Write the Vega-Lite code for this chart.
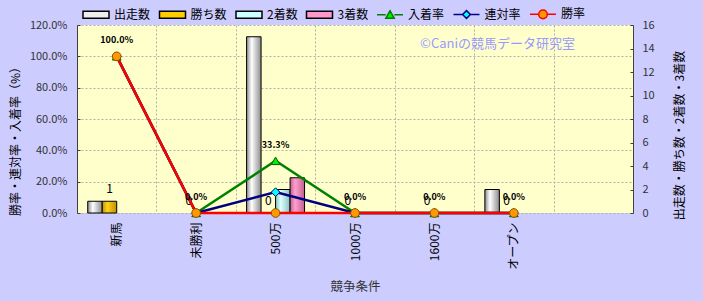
{
  "$schema": "https://vega.github.io/schema/vega-lite/v6.json",
  "width": 556,
  "height": 188,
  "autosize": {"type": "none"},
  "padding": {"left": 77, "top": 25, "right": 70, "bottom": 88},
  "background": "#ccccff",
  "config": {
    "font": "Noto Sans CJK JP",
    "view": {"fill": "#ffffcc", "stroke": null},
    "axis": {"domainColor": "#404040", "tickColor": "#404040", "titleFontWeight": "normal", "titleColor": "#000000", "labelColor": "#333333"}
  },
  "title": {
    "text": "©Caniの競馬データ研究室",
    "orient": "top",
    "anchor": "end",
    "frame": "group",
    "offset": 0,
    "dy": 51,
    "dx": -58,
    "fontSize": 13,
    "fontWeight": "normal",
    "color": "#9999ff"
  },
  "datasets": {
    "counts": [
      {"cond": "新馬", "series": "出走数", "value": 1},
      {"cond": "新馬", "series": "勝ち数", "value": 1},
      {"cond": "新馬", "series": "2着数", "value": 0},
      {"cond": "新馬", "series": "3着数", "value": 0},
      {"cond": "未勝利", "series": "出走数", "value": 0},
      {"cond": "未勝利", "series": "勝ち数", "value": 0},
      {"cond": "未勝利", "series": "2着数", "value": 0},
      {"cond": "未勝利", "series": "3着数", "value": 0},
      {"cond": "500万", "series": "出走数", "value": 15},
      {"cond": "500万", "series": "勝ち数", "value": 0},
      {"cond": "500万", "series": "2着数", "value": 2},
      {"cond": "500万", "series": "3着数", "value": 3},
      {"cond": "1000万", "series": "出走数", "value": 0},
      {"cond": "1000万", "series": "勝ち数", "value": 0},
      {"cond": "1000万", "series": "2着数", "value": 0},
      {"cond": "1000万", "series": "3着数", "value": 0},
      {"cond": "1600万", "series": "出走数", "value": 0},
      {"cond": "1600万", "series": "勝ち数", "value": 0},
      {"cond": "1600万", "series": "2着数", "value": 0},
      {"cond": "1600万", "series": "3着数", "value": 0},
      {"cond": "オープン", "series": "出走数", "value": 2},
      {"cond": "オープン", "series": "勝ち数", "value": 0},
      {"cond": "オープン", "series": "2着数", "value": 0},
      {"cond": "オープン", "series": "3着数", "value": 0}
    ],
    "rates": [
      {"cond": "新馬", "series": "入着率", "value": 1.0},
      {"cond": "未勝利", "series": "入着率", "value": 0},
      {"cond": "500万", "series": "入着率", "value": 0.333},
      {"cond": "1000万", "series": "入着率", "value": 0},
      {"cond": "1600万", "series": "入着率", "value": 0},
      {"cond": "オープン", "series": "入着率", "value": 0},
      {"cond": "新馬", "series": "連対率", "value": 1.0},
      {"cond": "未勝利", "series": "連対率", "value": 0},
      {"cond": "500万", "series": "連対率", "value": 0.133},
      {"cond": "1000万", "series": "連対率", "value": 0},
      {"cond": "1600万", "series": "連対率", "value": 0},
      {"cond": "オープン", "series": "連対率", "value": 0},
      {"cond": "新馬", "series": "勝率", "value": 1.0},
      {"cond": "未勝利", "series": "勝率", "value": 0},
      {"cond": "500万", "series": "勝率", "value": 0},
      {"cond": "1000万", "series": "勝率", "value": 0},
      {"cond": "1600万", "series": "勝率", "value": 0},
      {"cond": "オープン", "series": "勝率", "value": 0}
    ]
  },
  "encoding": {
    "x": {
      "field": "cond",
      "type": "nominal",
      "sort": null,
      "scale": {"domain": ["新馬", "未勝利", "500万", "1000万", "1600万", "オープン", " "], "paddingInner": 0, "paddingOuter": 0},
      "axis": {
        "title": "競争条件",
        "labelAngle": -90,
        "tickBand": "extent",
        "ticks": false,
        "grid": true,
        "gridDash": [2, 2],
        "gridColor": "#b0b0b0",
        "domain": false,
        "labelPadding": 9,
        "labelFontSize": 12,
        "labelColor": "#000000",
        "titleFontSize": 12.5,
        "titleColor": "#333333",
        "titleY": 73,
        "titleBaseline": "middle"
      }
    }
  },
  "layer": [
    {
      "data": {"name": "counts"},
      "encoding": {
        "y": {
          "field": "value",
          "type": "quantitative",
          "scale": {"domain": [0, 16], "nice": false},
          "axis": {
            "orient": "right",
            "values": [0, 2, 4, 6, 8, 10, 12, 14, 16],
            "grid": false,
            "tickSize": -3,
            "labelPadding": 12,
            "labelFontSize": 11,
            "title": "出走数・勝ち数・2着数・3着数",
            "titleFontSize": 12,
            "titleAngle": -90,
            "titleX": 46,
            "titleY": 110,
            "titleBaseline": "middle"
          }
        },
        "xOffset": {
          "field": "series",
          "type": "nominal",
          "sort": null,
          "scale": {"domain": ["出走数", "勝ち数", "2着数", "3着数"], "paddingInner": 0, "paddingOuter": 0.74}
        }
      },
      "layer": [
        {
          "transform": [{"filter": "datum.value > 0"}],
          "mark": {"type": "bar", "stroke": "#000000", "strokeWidth": 1},
          "encoding": {
            "fill": {
              "condition": [
                {"test": "datum.series === '出走数'", "value": {"gradient": "linear", "x1": 0, "y1": 0, "x2": 1, "y2": 0, "stops": [{"offset": 0, "color": "#8c8c8c"}, {"offset": 0.35, "color": "#ffffff"}, {"offset": 1, "color": "#8c8c8c"}]}},
                {"test": "datum.series === '勝ち数'", "value": {"gradient": "linear", "x1": 0, "y1": 0, "x2": 1, "y2": 0, "stops": [{"offset": 0, "color": "#c09000"}, {"offset": 0.35, "color": "#ffd21a"}, {"offset": 1, "color": "#c09000"}]}},
                {"test": "datum.series === '2着数'", "value": {"gradient": "linear", "x1": 0, "y1": 0, "x2": 1, "y2": 0, "stops": [{"offset": 0, "color": "#88c0c0"}, {"offset": 0.35, "color": "#e0ffff"}, {"offset": 1, "color": "#88c0c0"}]}}
              ],
              "value": {"gradient": "linear", "x1": 0, "y1": 0, "x2": 1, "y2": 0, "stops": [{"offset": 0, "color": "#c0608f"}, {"offset": 0.35, "color": "#ffa0d0"}, {"offset": 1, "color": "#c0608f"}]}
            }
          }
        },
        {
          "transform": [{"filter": "datum.series === '勝ち数'"}],
          "mark": {"type": "text", "dy": -12, "fontSize": 12, "baseline": "middle", "color": "#000000"},
          "encoding": {"text": {"field": "value", "type": "quantitative"}}
        }
      ]
    },
    {
      "data": {"name": "rates"},
      "encoding": {
        "y": {
          "field": "value",
          "type": "quantitative",
          "scale": {"domain": [0, 1.2], "nice": false},
          "axis": {
            "orient": "left",
            "format": ".1%",
            "values": [0, 0.2, 0.4, 0.6, 0.8, 1.0, 1.2],
            "grid": true,
            "gridDash": [2, 2],
            "gridColor": "#b0b0b0",
            "tickSize": -3,
            "labelPadding": 13,
            "labelFontSize": 11,
            "title": "勝率・連対率・入着率（%）",
            "titleFontSize": 12,
            "titleX": -62,
            "titleY": 113,
            "titleBaseline": "middle"
          }
        }
      },
      "layer": [
        {
          "transform": [{"filter": "datum.series === '入着率'"}],
          "mark": {"type": "line", "color": "#008000", "strokeWidth": 2.5},
          "encoding": {}
        },
        {
          "transform": [{"filter": "datum.series === '連対率'"}],
          "mark": {"type": "line", "color": "#000080", "strokeWidth": 2.5},
          "encoding": {}
        },
        {
          "transform": [{"filter": "datum.series === '勝率'"}],
          "mark": {"type": "line", "color": "#ff0000", "strokeWidth": 2.5},
          "encoding": {}
        },
        {
          "mark": {"type": "point", "filled": true, "size": 75, "strokeWidth": 1, "opacity": 1},
          "encoding": {
            "shape": {
              "condition": [
                {"test": "datum.series === '入着率'", "value": "triangle-up"},
                {"test": "datum.series === '連対率'", "value": "diamond"}
              ],
              "value": "circle"
            },
            "fill": {
              "condition": [
                {"test": "datum.series === '入着率'", "value": "#00ee00"},
                {"test": "datum.series === '連対率'", "value": "#00ffff"}
              ],
              "value": "#ff9900"
            },
            "stroke": {
              "condition": [
                {"test": "datum.series === '入着率'", "value": "#006000"},
                {"test": "datum.series === '連対率'", "value": "#000080"}
              ],
              "value": "#8a5000"
            }
          }
        },
        {
          "transform": [{"filter": "datum.series === '入着率'"}],
          "mark": {"type": "text", "dy": -16, "fontSize": 9, "fontWeight": "bold", "baseline": "middle", "color": "#000000"},
          "encoding": {"text": {"field": "value", "type": "quantitative", "format": ".1%"}}
        },
        {
          "transform": [{"filter": "false"}],
          "mark": {"type": "point", "filled": true, "strokeWidth": 1.5, "opacity": 1},
          "encoding": {
            "fill": {
              "field": "series",
              "type": "nominal",
              "title": null,
              "scale": {
                "domain": ["出走数", "勝ち数", "2着数", "3着数", "入着率", "連対率", "勝率"],
                "range": ["#eeeeee", "#ffcc00", "#ccffff", "#ff99cc", "#00ee00", "#00ffff", "#ff9900"]
              },
              "legend": {
                "orient": "none",
                "legendX": 5,
                "legendY": -25,
                "direction": "horizontal",
                "columns": 7,
                "title": null,
                "padding": 0,
                "columnPadding": 5.5,
                "labelOffset": 4,
                "labelFontSize": 12,
                "labelColor": "#000000",
                "symbolSize": 676,
                "symbolStrokeWidth": 1.5
              }
            },
            "stroke": {
              "field": "series",
              "type": "nominal",
              "title": null,
              "scale": {
                "domain": ["出走数", "勝ち数", "2着数", "3着数", "入着率", "連対率", "勝率"],
                "range": ["#000000", "#000000", "#000000", "#000000", "#008000", "#000080", "#ff0000"]
              },
              "legend": {
                "orient": "none",
                "legendX": 5,
                "legendY": -25,
                "direction": "horizontal",
                "columns": 7,
                "title": null,
                "padding": 0,
                "columnPadding": 5.5,
                "labelOffset": 4,
                "labelFontSize": 12,
                "labelColor": "#000000",
                "symbolSize": 676,
                "symbolStrokeWidth": 1.5
              }
            },
            "shape": {
              "field": "series",
              "type": "nominal",
              "title": null,
              "scale": {
                "domain": ["出走数", "勝ち数", "2着数", "3着数", "入着率", "連対率", "勝率"],
                "range": [
                  "M-1,-0.27H1V0.27H-1Z",
                  "M-1,-0.27H1V0.27H-1Z",
                  "M-1,-0.27H1V0.27H-1Z",
                  "M-1,-0.27H1V0.27H-1Z",
                  "M-1,0H-0.33M0.33,0H1M-0.33,0.27L0,-0.3L0.33,0.27Z",
                  "M-1,0H-0.3M0.3,0H1M0,-0.3L0.3,0L0,0.3L-0.3,0Z",
                  "M-1,0H-0.33M0.33,0H1M-0.33,0A0.33,0.33,0,1,1,0.33,0A0.33,0.33,0,1,1,-0.33,0Z"
                ]
              },
              "legend": {
                "orient": "none",
                "legendX": 5,
                "legendY": -25,
                "direction": "horizontal",
                "columns": 7,
                "title": null,
                "padding": 0,
                "columnPadding": 5.5,
                "labelOffset": 4,
                "labelFontSize": 12,
                "labelColor": "#000000",
                "symbolSize": 676,
                "symbolStrokeWidth": 1.5
              }
            }
          }
        }
      ]
    }
  ],
  "resolve": {"scale": {"y": "independent"}}
}
